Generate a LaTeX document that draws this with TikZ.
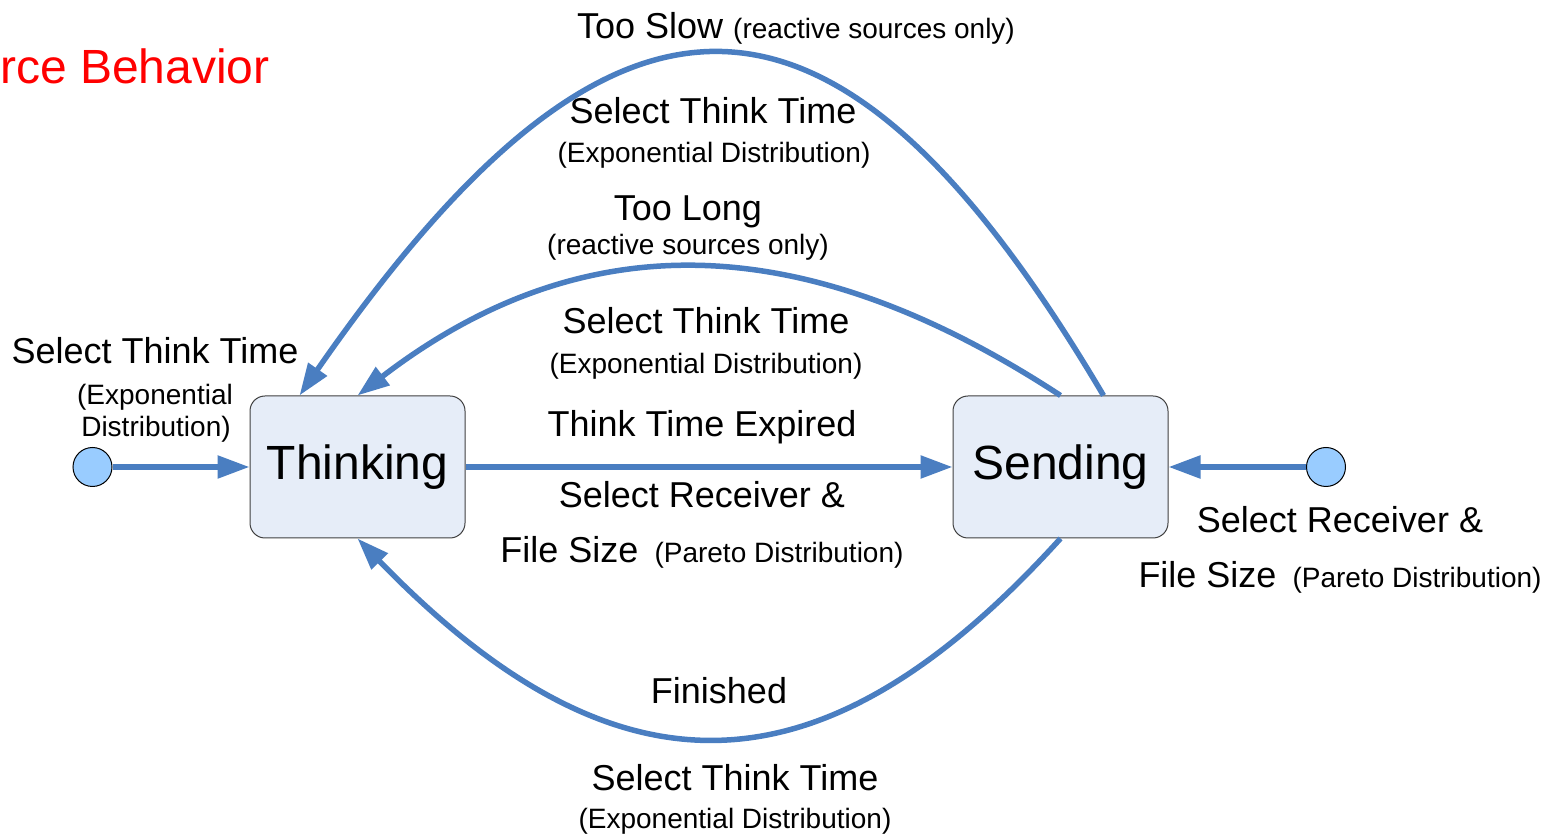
\documentclass[tikz,border=0pt]{standalone}
\usepackage{fontspec}
\setmainfont{Liberation Sans}
\usetikzlibrary{arrows.meta,positioning}

\definecolor{flowblue}{RGB}{74,126,193}
\definecolor{phasefill}{RGB}{230,237,248}
\definecolor{dotfill}{RGB}{153,204,255}
\newcommand{\notesize}{\fontsize{14}{16}\selectfont}

\begin{document}
\begin{tikzpicture}[>={Triangle[length=16pt,width=11pt]},x=0.5pt,y=-0.5pt]
  \tikzstyle{phase}=[draw=black!75,line width=0.5pt,fill=phasefill,rounded corners=7.5pt,
                     minimum width=107.5pt,minimum height=71pt,font=\fontsize{24}{28}\selectfont]
  \tikzstyle{entry}=[circle,draw=black,line width=0.5pt,fill=dotfill,minimum size=19.5pt,inner sep=0pt]
  \tikzstyle{big}=[font=\fontsize{18}{21}\selectfont,anchor=base,inner sep=0pt]
  \tikzstyle{note}=[font=\notesize,anchor=base,inner sep=0pt]
  \tikzstyle{flow}=[->,color=flowblue,line width=2.75pt]

  \useasboundingbox (0,0) rectangle (1547,838);

  \node[anchor=base east,inner sep=0pt,text=red,font=\fontsize{24}{28}\selectfont] (title) at (270,84) {rce Behavior};

  \node[phase] (T) at (357.5,467) {Thinking};
  \node[phase] (S) at (1060.5,467) {Sending};
  \node[entry] (L) at (92.5,467) {};
  \node[entry] (R) at (1326,467) {};

  \draw[flow] (L) -- (T);
  \draw[flow] (R) -- (S);
  \draw[flow] (T) -- (S);
  \draw[flow] ([xshift=21.5pt]S.north) .. controls (835,-59) and (615,-59) .. ([xshift=-29pt]T.north);
  \draw[flow] (S.north) .. controls (800,225) and (580,225) .. (T.north);
  \draw[flow] (S.south) .. controls (820,804) and (615,804) .. (T.south);

  % labels
  \node[big] (slow) at (796,39) {Too Slow \notesize(reactive sources only)};
  \node[big] (sel1) at (713,124) {Select Think Time};
  \node[note] (exp1) at (714,163) {(Exponential Distribution)};
  \node[big] (long) at (688,221) {Too Long};
  \node[note] (react) at (688,255) {(reactive sources only)};
  \node[big] (sel2) at (706,334) {Select Think Time};
  \node[note] (exp2) at (706,374) {(Exponential Distribution)};
  \node[big] (expired) at (702,437) {Think Time Expired};
  \node[big] (recv1) at (702,508) {Select Receiver \&};
  \node[big] (size1) at (702,563) {File Size \,\notesize(Pareto Distribution)};
  \node[big] (done) at (719,704) {Finished};
  \node[big] (sel3) at (735,791) {Select Think Time};
  \node[note] (exp3) at (735,828) {(Exponential Distribution)};
  \node[big] (sel0) at (155,364) {Select Think Time};
  \node[note] (exp0a) at (155,405) {(Exponential};
  \node[note] (exp0b) at (156,437) {Distribution)};
  \node[big] (recv2) at (1340,533) {Select Receiver \&};
  \node[big] (size2) at (1340,588) {File Size \,\notesize(Pareto Distribution)};
\end{tikzpicture}
\end{document}
